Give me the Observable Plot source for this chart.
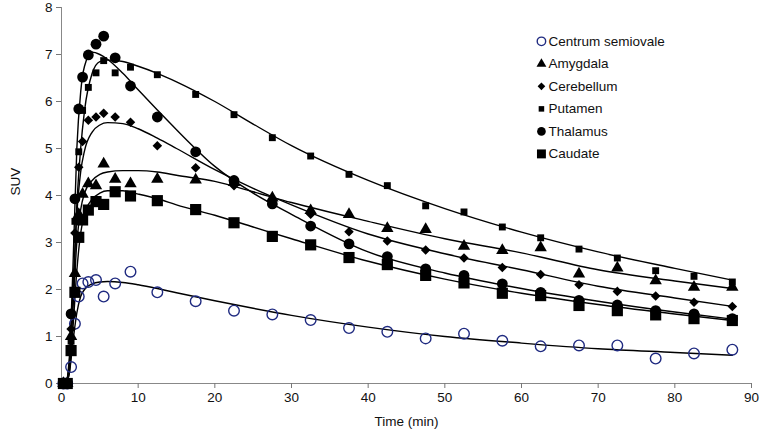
<!DOCTYPE html>
<html><head><meta charset="utf-8">
<script src="https://cdn.jsdelivr.net/npm/d3@7"></script>
<script src="https://cdn.jsdelivr.net/npm/@observablehq/plot@0.6"></script>
<style>body{margin:0;background:#fff;font-family:"Liberation Sans",Arial,sans-serif;}</style>
</head><body><div id="chart"></div>
<script>
// Measured frame times (min)
const times = [0.25,0.75,1.25,1.75,2.25,2.75,3.5,4.5,5.5,7,9,12.5,17.5,22.5,27.5,32.5,37.5,42.5,47.5,52.5,57.5,62.5,67.5,72.5,77.5,82.5,87.5];
// Measured SUV per region
const centrum    = [0,0,0.35,1.27,1.85,2.13,2.16,2.2,1.85,2.13,2.38,1.94,1.75,1.55,1.47,1.35,1.18,1.1,0.96,1.06,0.91,0.79,0.81,0.81,0.53,0.64,0.72];
const amygdala   = [0,0,1.0,2.34,3.6,4.03,4.25,4.21,4.67,4.35,4.25,4.35,4.33,4.28,3.95,3.68,3.6,3.3,3.28,2.92,2.83,2.89,2.33,2.46,2.19,2.05,2.05];
const cerebellum = [0,0,1.16,3.2,4.6,5.15,5.6,5.67,5.75,5.67,5.56,5.06,4.59,4.21,3.85,3.6,3.23,3.03,2.84,2.67,2.47,2.32,2.10,1.96,1.86,1.73,1.64];
const putamen    = [0,0,0.9,3.45,4.93,5.81,6.3,6.61,6.87,6.61,6.73,6.57,6.15,5.72,5.23,4.84,4.45,4.21,3.78,3.65,3.33,3.10,2.86,2.67,2.40,2.28,2.16];
const thalamus   = [0,0,1.48,3.93,5.84,6.52,6.99,7.22,7.39,6.93,6.33,5.67,4.93,4.32,3.82,3.35,2.97,2.7,2.44,2.3,2.12,1.94,1.77,1.67,1.55,1.48,1.38];
const caudate    = [0,0,0.7,1.94,3.11,3.48,3.69,3.87,3.81,4.08,3.99,3.89,3.70,3.42,3.13,2.95,2.68,2.53,2.3,2.14,1.92,1.87,1.66,1.55,1.46,1.38,1.34];

// Fitted model curves
const fitTimes      = [0,0.5,1,1.5,2,2.5,3,4,5,6,8,10,12.5,15,20,25,30,40,50,60,70,80,87.5];
const centrumFit    = [0,0,0.2,0.9,1.5,1.85,2.0,2.12,2.16,2.17,2.15,2.1,2.02,1.93,1.76,1.6,1.45,1.2,1.0,0.86,0.74,0.66,0.6];
const amygdalaFit   = [0,0,0.3,1.6,3.0,3.7,4.05,4.32,4.45,4.5,4.53,4.53,4.5,4.43,4.3,4.08,3.85,3.45,3.08,2.78,2.42,2.18,2.02];
const cerebellumFit = [0,0,0.4,2.0,3.6,4.5,4.95,5.35,5.5,5.55,5.53,5.42,5.22,5.0,4.55,4.15,3.8,3.18,2.76,2.42,2.07,1.82,1.64];
const putamenFit    = [0,0,0.3,1.8,3.8,5.0,5.8,6.6,6.85,6.88,6.85,6.75,6.6,6.42,6.0,5.52,5.06,4.32,3.72,3.22,2.8,2.45,2.2];
const thalamusFit   = [0,0,0.5,2.5,5.0,6.2,6.75,7.05,7.0,6.9,6.6,6.25,5.82,5.4,4.62,4.05,3.6,2.8,2.35,2.02,1.75,1.52,1.37];
const caudateFit    = [0,0,0.2,1.2,2.4,3.2,3.6,3.92,4.05,4.1,4.1,4.03,3.93,3.8,3.58,3.33,3.08,2.6,2.22,1.92,1.68,1.48,1.34];

const regionNames = ["Centrum semiovale","Amygdala","Cerebellum","Putamen","Thalamus","Caudate"];
const xTicks = [0,10,20,30,40,50,60,70,80,90];
const yTicks = [0,1,2,3,4,5,6,7,8];

const measured = [centrum, amygdala, cerebellum, putamen, thalamus, caudate];
const fitted = [centrumFit, amygdalaFit, cerebellumFit, putamenFit, thalamusFit, caudateFit];
const styles = [
  {symbol:"circle",   r:5.3, fill:"none",  stroke:"#1f2a80", sw:1.4},
  {symbol:"triangle", r:4.6, fill:"black", stroke:"none",    sw:0},
  {symbol:"diamond2", r:4.3, fill:"black", stroke:"none",    sw:0},
  {symbol:"square",   r:3.9, fill:"black", stroke:"none",    sw:0},
  {symbol:"circle",   r:5.4, fill:"black", stroke:"none",    sw:0},
  {symbol:"square",   r:6.3, fill:"black", stroke:"none",    sw:0}
];

const lineMarks = fitted.map(f => Plot.line(fitTimes.map((t,i)=>({t, v:f[i]})), {x:"t", y:"v", stroke:"black", strokeWidth:1.4, curve:"monotone-x"}));
const dotMarks = measured.map((m,k) => {
  const s = styles[k];
  return Plot.dot(times.map((t,i)=>({t, v:m[i]})), {x:"t", y:"v", symbol:()=>s.symbol, r:s.r, fill:s.fill, stroke:s.stroke, strokeWidth:s.sw});
});

// legend rows (placed in data space, upper right)
const legendX = 62.6;
const legendTop = 7.28, legendStep = 0.479;
const legendRows = regionNames.map((name,k)=>({name, k, t:legendX, v:legendTop - k*legendStep}));
const legendMarks = legendRows.map(row => {
  const s = styles[row.k];
  return Plot.dot([row], {x:"t", y:"v", symbol:()=>s.symbol, r:s.r*0.8, fill:s.fill, stroke:s.stroke, strokeWidth:s.sw});
});

const chart = Plot.plot({
  width: 760, height: 436,
  marginLeft: 61, marginRight: 9, marginTop: 7, marginBottom: 53,
  style: {fontFamily: '"Liberation Sans", Arial, sans-serif', fontSize: "13.5px", background:"white", overflow:"visible"},
  x: {domain:[0,90]},
  y: {domain:[0,8]},
  symbol: {type:"identity"},
  marks: [
    Plot.ruleX([0], {stroke:"#888", strokeWidth:1}),
    Plot.ruleY([0], {stroke:"#888", strokeWidth:1}),
    Plot.axisX({ticks:xTicks, tickSize:5, tickPadding:4, stroke:"#777", fill:"#111", fontSize:13.5, label:null}),
    Plot.axisY({ticks:yTicks, tickSize:5, tickPadding:4, stroke:"#777", fill:"#111", fontSize:13.5, label:null}),
    Plot.text(["Time (min)"], {frameAnchor:"bottom", dy:42, fontSize:13.5, fill:"#111"}),
    Plot.text(["SUV"], {frameAnchor:"left", dx:-46, rotate:-90, fontSize:13.5, fill:"#111"}),
    ...lineMarks,
    ...dotMarks,
    ...legendMarks,
    Plot.text(legendRows, {x:"t", y:"v", text:"name", dx:7, textAnchor:"start", fontSize:13.5, fill:"#111"})
  ]
});
document.getElementById("chart").appendChild(chart);
</script>
</body></html>
